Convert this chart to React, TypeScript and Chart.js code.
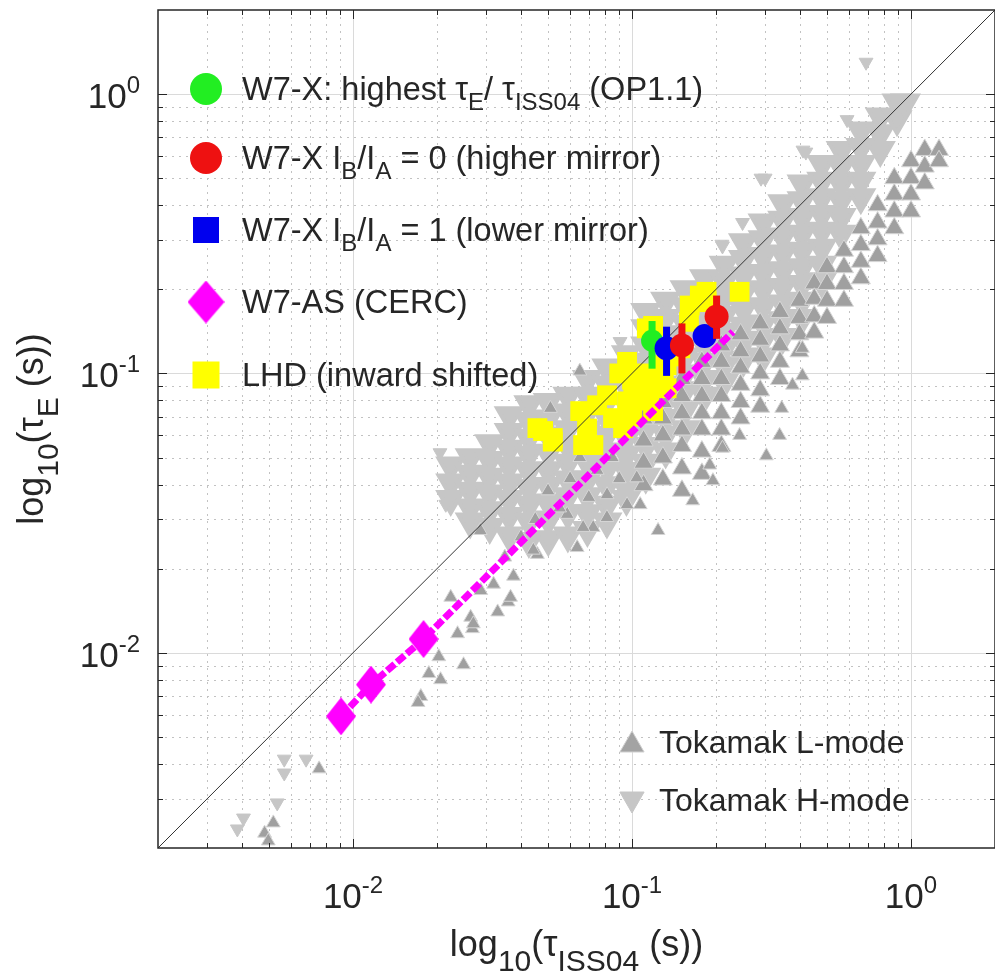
import { useEffect, useRef } from 'react';
import { Chart, registerables } from 'chart.js';

Chart.register(...registerables);

// ---------- axes ----------
const AXIS_MIN = 0.002;
const AXIS_MAX = 2;
const majorTickValues = [0.01, 0.1, 1];
const majorTickExponents = ['-2', '-1', '0'];
const minorDecades = [0.001, 0.01, 0.1, 1];
const minorMultipliers = [2, 3, 4, 5, 6, 7, 8, 9];

// ---------- Tokamak H-mode (dense cloud: columns of [tau_ISS04, tau_E values]) ----------
const hModeColumns: [number, number[]][] = [
  [0.0224, [0.0468, 0.0407, 0.0355]],
  [0.0263, [0.0501, 0.0437, 0.038, 0.0331, 0.0295]],
  [0.0309, [0.0562, 0.049, 0.0427, 0.0372, 0.0324, 0.0282]],
  [0.0363, [0.0708, 0.0617, 0.0537, 0.0468, 0.0407, 0.0355, 0.0309, 0.0263]],
  [0.0427, [0.0776, 0.0676, 0.0589, 0.0513, 0.0447, 0.0389, 0.0339, 0.0295, 0.0251]],
  [0.0501, [0.079, 0.069, 0.06, 0.052, 0.045, 0.0395, 0.0345, 0.03, 0.0255]],
  [0.0589, [0.0832, 0.0724, 0.0631, 0.055, 0.0479, 0.0417, 0.0363, 0.0316, 0.0263]],
  [0.0692, [0.0955, 0.0832, 0.0724, 0.0631, 0.055, 0.0479, 0.0417, 0.0363, 0.0316, 0.0275]],
  [0.0813, [0.105, 0.0912, 0.0794, 0.0692, 0.0603, 0.0525, 0.0457, 0.0398, 0.0339, 0.0295]],
  [0.0955, [0.117, 0.102, 0.0891, 0.0776, 0.0676, 0.0589, 0.0513, 0.0447, 0.0389, 0.0355]],
  [0.112, [0.166, 0.145, 0.126, 0.11, 0.0955, 0.0832, 0.0724, 0.0631, 0.055, 0.0479, 0.0427]],
  [0.132, [0.182, 0.158, 0.138, 0.12, 0.105, 0.0912, 0.0794, 0.0692, 0.0603, 0.0525]],
  [0.155, [0.2, 0.174, 0.151, 0.132, 0.115, 0.1, 0.0871, 0.0741, 0.0631]],
  [0.182, [0.219, 0.191, 0.166, 0.145, 0.126, 0.11, 0.0955, 0.0832]],
  [0.214, [0.245, 0.214, 0.186, 0.162, 0.141, 0.123, 0.107, 0.0933]],
  [0.251, [0.295, 0.257, 0.224, 0.195, 0.17, 0.148, 0.129, 0.112]],
  [0.295, [0.347, 0.302, 0.263, 0.229, 0.2, 0.174, 0.151, 0.132, 0.115]],
  [0.347, [0.407, 0.355, 0.309, 0.269, 0.234, 0.204, 0.178, 0.155, 0.135]],
  [0.407, [0.479, 0.417, 0.363, 0.316, 0.275, 0.24, 0.209, 0.182, 0.158]],
  [0.479, [0.562, 0.49, 0.427, 0.372, 0.324, 0.282, 0.245, 0.214]],
  [0.562, [0.631, 0.55, 0.479, 0.417, 0.363, 0.316]],
  [0.661, [0.741, 0.646, 0.562, 0.49, 0.427]],
  [0.776, [0.832, 0.724, 0.631]],
  [0.891, [0.933, 0.813]],
  [0.955, [0.933]],
];
const hModeSparse: [number, number][] = [
  [0.00567, 0.00416], [0.00679, 0.00416], [0.00567, 0.00371], [0.00535, 0.0029],
  [0.00385, 0.00234], [0.00405, 0.00256], [0.69, 1.3], [0.3, 0.5], [0.42, 0.62],
  [0.21, 0.29], [0.41, 0.63], [0.59, 0.81], [0.29, 0.5], [0.249, 0.347], [0.211, 0.286],
  [0.0906, 0.13], [0.0205, 0.052], [0.0215, 0.034],
];

// ---------- Tokamak L-mode ----------
const lModeColumns: [number, number[]][] = [
  [0.11, [0.069, 0.0575, 0.0479, 0.0398]],
  [0.129, [0.079, 0.069, 0.06, 0.05, 0.0417]],
  [0.151, [0.0955, 0.083, 0.072, 0.063, 0.055, 0.0457, 0.038]],
  [0.178, [0.11, 0.0955, 0.083, 0.072, 0.063, 0.0525, 0.0437]],
  [0.209, [0.126, 0.11, 0.0955, 0.083, 0.072, 0.063, 0.055]],
  [0.245, [0.138, 0.12, 0.105, 0.091, 0.079, 0.069]],
  [0.288, [0.151, 0.132, 0.115, 0.1, 0.087, 0.076]],
  [0.339, [0.166, 0.145, 0.126, 0.11, 0.0955]],
  [0.398, [0.182, 0.158, 0.138, 0.12]],
  [0.45, [0.21, 0.185, 0.16, 0.14]],
  [0.5, [0.24, 0.209, 0.182, 0.158]],
  [0.575, [0.275, 0.24, 0.209, 0.182]],
  [0.661, [0.331, 0.288, 0.251, 0.219]],
  [0.759, [0.4, 0.347, 0.302, 0.263]],
  [0.871, [0.5, 0.437, 0.38, 0.331]],
  [1.0, [0.575, 0.5, 0.437, 0.38]],
  [1.12, [0.631, 0.55, 0.479]],
  [1.26, [0.631, 0.575]],
];
const lModeSparse: [number, number][] = [
  [0.00756, 0.00384], [0.00518, 0.00246], [0.00482, 0.00226], [0.00497, 0.00212],
  [0.0175, 0.00697], [0.0171, 0.00664], [0.0187, 0.00842], [0.0206, 0.00801],
  [0.0203, 0.00968], [0.0249, 0.00906], [0.0237, 0.0117], [0.0268, 0.0122],
  [0.0264, 0.0134], [0.033, 0.014], [0.036, 0.0152], [0.027, 0.0127], [0.0224, 0.0158],
  [0.0287, 0.0167], [0.0367, 0.0158], [0.0376, 0.0188], [0.0458, 0.0225], [0.0636, 0.0238],
  [0.0726, 0.0281], [0.0813, 0.0305], [0.096, 0.0339], [0.107, 0.0339], [0.124, 0.0274],
  [0.0286, 0.0274], [0.0668, 0.0281], [0.0586, 0.0313], [0.0814, 0.0368], [0.104, 0.0423],
  [0.05, 0.038], [0.055, 0.033], [0.06, 0.042], [0.07, 0.036], [0.075, 0.045], [0.085, 0.05],
  [0.09, 0.042], [0.065, 0.05], [0.045, 0.03], [0.04, 0.026], [0.035, 0.022], [0.051, 0.075],
  [0.065, 0.102], [0.338, 0.06], [0.303, 0.0507], [0.195, 0.0413], [0.165, 0.035],
  [0.344, 0.075], [0.408, 0.098], [0.408, 0.123], [0.376, 0.0908], [0.243, 0.06],
  [0.211, 0.054], [0.19, 0.047], [0.0443, 0.0233], [0.0319, 0.0176],
];

// ---------- LHD (inward shifted) ----------
const lhdPoints: [number, number][] = [
  [0.048, 0.0622], [0.0668, 0.0554], [0.0652, 0.0733], [0.075, 0.0769], [0.0855, 0.0692],
  [0.096, 0.0794], [0.096, 0.11], [0.109, 0.0885], [0.123, 0.0963], [0.113, 0.145],
  [0.119, 0.148], [0.175, 0.19], [0.243, 0.196], [0.133, 0.107], [0.149, 0.123],
  [0.052, 0.0587], [0.069, 0.0635], [0.0814, 0.0835], [0.0458, 0.0637], [0.052, 0.057],
  [0.0727, 0.0554], [0.0929, 0.0637], [0.101, 0.0815], [0.119, 0.0733], [0.133, 0.0885],
  [0.161, 0.175], [0.185, 0.196], [0.126, 0.107], [0.116, 0.0908], [0.185, 0.18],
  [0.16, 0.153], [0.09, 0.1], [0.1, 0.095], [0.11, 0.1], [0.14, 0.115], [0.1, 0.07],
  [0.115, 0.08], [0.13, 0.095],
];

// ---------- W7-AS (CERC) ----------
const w7asPoints: [number, number][] = [
  [0.00906, 0.00592], [0.0116, 0.00769], [0.0179, 0.0112], [0.23, 0.141],
];

// ---------- W7-X ----------
const w7xHighest: [number, number][] = [[0.118, 0.131]];
const w7xHighestErr: [number, number][] = [[0.104, 0.154]];
const w7xHigherMirror: [number, number][] = [[0.151, 0.126], [0.201, 0.16]];
const w7xHigherMirrorErr: [number, number][] = [[0.1, 0.151], [0.133, 0.19]];
const w7xLowerMirror: [number, number][] = [[0.133, 0.123], [0.182, 0.136]];
const w7xLowerMirrorErr: [number, number][] = [[0.098, 0.147], [0.127, 0.146]];

const diagonal: [number, number][] = [[AXIS_MIN, AXIS_MIN], [AXIS_MAX, AXIS_MAX]];

const FONT = '"Liberation Sans", Arial, Helvetica, sans-serif';
const TEXT_COLOR = '#262626';

type Part = { t: string; sub?: boolean; sup?: boolean };

function drawRich(
  ctx: CanvasRenderingContext2D, parts: Part[], x: number, y: number, size: number,
  align: 'left' | 'center' | 'right', smallSize: number, subShift: number, supShift: number
) {
  const widths = parts.map((p) => {
    ctx.font = `${p.sub || p.sup ? smallSize : size}px ${FONT}`;
    return ctx.measureText(p.t).width;
  });
  const total = widths.reduce((a, b) => a + b, 0);
  let cx = align === 'left' ? x : align === 'center' ? x - total / 2 : x - total;
  ctx.textAlign = 'left';
  ctx.textBaseline = 'alphabetic';
  parts.forEach((p, i) => {
    ctx.font = `${p.sub || p.sup ? smallSize : size}px ${FONT}`;
    ctx.fillText(p.t, cx, y + (p.sub ? subShift : p.sup ? -supShift : 0));
    cx += widths[i];
  });
}

function makeDiamond(w: number, h: number, color: string) {
  const c = document.createElement('canvas');
  c.width = w;
  c.height = h;
  const g = c.getContext('2d')!;
  g.fillStyle = color;
  g.beginPath();
  g.moveTo(w / 2, 0);
  g.lineTo(w, h / 2);
  g.lineTo(w / 2, h);
  g.lineTo(0, h / 2);
  g.closePath();
  g.fill();
  return c;
}

function triangle(ctx: CanvasRenderingContext2D, x: number, y: number, r: number, down: boolean, fill: string, stroke: string) {
  const s = down ? -1 : 1;
  ctx.beginPath();
  ctx.moveTo(x, y - s * r);
  ctx.lineTo(x + r * 0.866, y + s * r * 0.5);
  ctx.lineTo(x - r * 0.866, y + s * r * 0.5);
  ctx.closePath();
  ctx.fillStyle = fill;
  ctx.fill();
  ctx.strokeStyle = stroke;
  ctx.lineWidth = 1;
  ctx.stroke();
}

const toXY = (arr: [number, number][]) => arr.map(([x, y]) => ({ x, y }));
const fromColumns = (cols: [number, number[]][]) =>
  cols.flatMap(([x, ys]) => ys.map((y) => ({ x, y })));

const decorPlugin = {
  id: 'decor',
  beforeDatasetsDraw(chart: any) {
    const { ctx, chartArea: a, scales } = chart;
    const xs = scales.x;
    const ys = scales.y;
    ctx.save();
    ctx.strokeStyle = '#c2c2c2';
    ctx.lineWidth = 1;
    ctx.setLineDash([2, 5]);
    minorDecades.forEach((d) => {
      minorMultipliers.forEach((m) => {
        const v = d * m;
        if (v <= AXIS_MIN || v >= AXIS_MAX) return;
        const px = Math.round(xs.getPixelForValue(v)) + 0.5;
        const py = Math.round(ys.getPixelForValue(v)) + 0.5;
        ctx.beginPath();
        ctx.moveTo(px, a.top);
        ctx.lineTo(px, a.bottom);
        ctx.moveTo(a.left, py);
        ctx.lineTo(a.right, py);
        ctx.stroke();
      });
    });
    ctx.setLineDash([]);
    ctx.strokeStyle = '#dadada';
    majorTickValues.forEach((v) => {
      const px = Math.round(xs.getPixelForValue(v)) + 0.5;
      const py = Math.round(ys.getPixelForValue(v)) + 0.5;
      ctx.beginPath();
      ctx.moveTo(px, a.top);
      ctx.lineTo(px, a.bottom);
      ctx.moveTo(a.left, py);
      ctx.lineTo(a.right, py);
      ctx.stroke();
    });
    ctx.restore();
  },
  beforeDatasetDraw(chart: any, args: any) {
    const ds = chart.data.datasets[args.index];
    if (!ds.errorBars) return;
    const { ctx } = chart;
    const xs = chart.scales.x;
    const ys = chart.scales.y;
    ctx.save();
    ctx.fillStyle = ds.backgroundColor;
    ds.data.forEach((p: any, i: number) => {
      const [lo, hi] = ds.errorBars[i];
      const px = xs.getPixelForValue(p.x);
      const yTop = ys.getPixelForValue(hi);
      const yBot = ys.getPixelForValue(lo);
      ctx.fillRect(px - 3.5, yTop, 7, yBot - yTop);
    });
    ctx.restore();
  },
  afterDatasetsDraw(chart: any) {
    const { ctx, chartArea: a, scales } = chart;
    const xs = scales.x;
    const ys = scales.y;
    ctx.save();
    ctx.strokeStyle = TEXT_COLOR;
    ctx.lineWidth = 1.5;
    ctx.strokeRect(a.left, a.top, a.right - a.left, a.bottom - a.top);
    ctx.lineWidth = 1;
    const tick = (v: number, len: number) => {
      const px = Math.round(xs.getPixelForValue(v)) + 0.5;
      const py = Math.round(ys.getPixelForValue(v)) + 0.5;
      ctx.beginPath();
      ctx.moveTo(px, a.bottom);
      ctx.lineTo(px, a.bottom - len);
      ctx.moveTo(px, a.top);
      ctx.lineTo(px, a.top + len);
      ctx.moveTo(a.left, py);
      ctx.lineTo(a.left + len, py);
      ctx.moveTo(a.right, py);
      ctx.lineTo(a.right - len, py);
      ctx.stroke();
    };
    minorDecades.forEach((d) =>
      minorMultipliers.forEach((m) => {
        const v = d * m;
        if (v > AXIS_MIN && v < AXIS_MAX) tick(v, 5);
      })
    );
    majorTickValues.forEach((v) => tick(v, 9));

    ctx.fillStyle = TEXT_COLOR;
    majorTickValues.forEach((v, i) => {
      const parts: Part[] = [{ t: '10' }, { t: majorTickExponents[i], sup: true }];
      drawRich(ctx, parts, xs.getPixelForValue(v), 908, 35, 'center', 24, 0, 15);
      drawRich(ctx, parts, 140, ys.getPixelForValue(v) + 14, 35, 'right', 24, 0, 15);
    });

    drawRich(
      ctx,
      [{ t: 'log' }, { t: '10', sub: true }, { t: '(τ' }, { t: 'ISS04', sub: true }, { t: ' (s))' }],
      (a.left + a.right) / 2, 956, 36, 'center', 30, 15, 0
    );
    ctx.save();
    ctx.translate(43, (a.top + a.bottom) / 2);
    ctx.rotate(-Math.PI / 2);
    drawRich(
      ctx,
      [{ t: 'log' }, { t: '10', sub: true }, { t: '(τ' }, { t: 'E', sub: true }, { t: ' (s))' }],
      0, 0, 36, 'center', 30, 15, 0
    );
    ctx.restore();

    const mx = 206;
    const tx = 242;
    const rows = [89, 158, 230, 302, 375];
    ctx.fillStyle = '#22ee22';
    ctx.beginPath(); ctx.arc(mx, rows[0], 16, 0, Math.PI * 2); ctx.fill();
    ctx.fillStyle = '#ee1111';
    ctx.beginPath(); ctx.arc(mx, rows[1], 16, 0, Math.PI * 2); ctx.fill();
    ctx.fillStyle = '#0000ee';
    ctx.fillRect(mx - 13, rows[2] - 13, 26, 26);
    const dmd = makeDiamond(37, 43, '#ff00ff');
    ctx.drawImage(dmd, mx - 18.5, rows[3] - 21.5);
    ctx.fillStyle = '#ffff00';
    ctx.fillRect(mx - 13.5, rows[4] - 13.5, 27, 27);

    ctx.fillStyle = TEXT_COLOR;
    const L = 32.5, S = 24, SUB = 10;
    drawRich(ctx, [{ t: 'W7-X: highest τ' }, { t: 'E', sub: true }, { t: '/ τ' }, { t: 'ISS04', sub: true }, { t: ' (OP1.1)' }], tx, rows[0] + 11, L, 'left', S, SUB, 0);
    drawRich(ctx, [{ t: 'W7-X I' }, { t: 'B', sub: true }, { t: '/I' }, { t: 'A', sub: true }, { t: ' = 0 (higher mirror)' }], tx, rows[1] + 11, L, 'left', S, SUB, 0);
    drawRich(ctx, [{ t: 'W7-X I' }, { t: 'B', sub: true }, { t: '/I' }, { t: 'A', sub: true }, { t: ' = 1 (lower mirror)' }], tx, rows[2] + 11, L, 'left', S, SUB, 0);
    drawRich(ctx, [{ t: 'W7-AS (CERC)' }], tx, rows[3] + 11, L, 'left', S, SUB, 0);
    drawRich(ctx, [{ t: 'LHD (inward shifted)' }], tx, rows[4] + 11, L, 'left', S, SUB, 0);

    triangle(ctx, 632, 745, 14, false, '#a3a3a3', '#d0d0d0');
    triangle(ctx, 632, 799, 14, true, '#c6c6c6', '#c6c6c6');
    ctx.fillStyle = TEXT_COLOR;
    drawRich(ctx, [{ t: 'Tokamak L-mode' }], 659, 753, 32, 'left', S, SUB, 0);
    drawRich(ctx, [{ t: 'Tokamak H-mode' }], 659, 811, 32, 'left', S, SUB, 0);
    ctx.restore();
  },
};

export default function App() {
  const ref = useRef<HTMLCanvasElement>(null);
  useEffect(() => {
    if (!ref.current) return;
    const hCloud = fromColumns(hModeColumns);
    const hData = hCloud.concat(toXY(hModeSparse));
    const lCloud = fromColumns(lModeColumns);
    const lData = lCloud.concat(toXY(lModeSparse));
    const plotDiamond = makeDiamond(30, 38, '#ff00ff');
    const chart = new Chart(ref.current, {
      type: 'scatter',
      data: {
        datasets: [
          {
            label: 'W7-X IB/IA = 0 (higher mirror)', data: toXY(w7xHigherMirror),
            backgroundColor: '#ee1111', borderColor: '#ee1111', pointRadius: 12, borderWidth: 0,
            order: 1, errorBars: w7xHigherMirrorErr,
          } as any,
          {
            label: 'W7-X IB/IA = 1 (lower mirror)', data: toXY(w7xLowerMirror),
            backgroundColor: '#0000ee', borderColor: '#0000ee', pointRadius: 12, borderWidth: 0,
            order: 2, errorBars: w7xLowerMirrorErr,
          } as any,
          {
            label: 'W7-X: highest', data: toXY(w7xHighest),
            backgroundColor: '#22ee22', borderColor: '#22ee22', pointRadius: 11, borderWidth: 0,
            order: 3, errorBars: w7xHighestErr,
          } as any,
          {
            label: 'W7-AS (CERC)', data: toXY(w7asPoints), showLine: true,
            borderColor: '#ff00ff', backgroundColor: '#ff00ff', borderWidth: 7, borderDash: [10, 3],
            pointStyle: plotDiamond, pointRadius: [15, 15, 15, 0], order: 4,
          } as any,
          {
            label: 'diagonal', data: toXY(diagonal), showLine: true,
            borderColor: '#333333', borderWidth: 1, pointRadius: 0, order: 5,
          } as any,
          {
            label: 'LHD (inward shifted)', data: toXY(lhdPoints),
            backgroundColor: '#ffff00', borderColor: '#ffff00', borderWidth: 0,
            pointStyle: 'rect', pointRadius: 14, order: 6,
          } as any,
          {
            label: 'Tokamak L-mode', data: lData,
            backgroundColor: '#a0a0a0', borderColor: '#d6d6d6', borderWidth: 1,
            pointStyle: 'triangle',
            pointRadius: (c: any) => (c.dataIndex < lCloud.length ? 11 : 8),
            order: 7,
          } as any,
          {
            label: 'Tokamak H-mode', data: hData,
            backgroundColor: '#c6c6c6', borderColor: '#c6c6c6',
            borderWidth: (c: any) => (c.dataIndex < hCloud.length ? 4 : 1),
            pointStyle: 'triangle', rotation: 180,
            pointRadius: (c: any) => (c.dataIndex < hCloud.length ? 14 : 8),
            order: 8,
          } as any,
        ],
      },
      options: {
        responsive: false,
        animation: false,
        events: [],
        layout: { padding: { left: 158, top: 10, right: 0, bottom: 129 }, autoPadding: false } as any,
        scales: {
          x: { type: 'logarithmic', min: AXIS_MIN, max: AXIS_MAX, display: false },
          y: { type: 'logarithmic', min: AXIS_MIN, max: AXIS_MAX, display: false },
        },
        plugins: { legend: { display: false }, tooltip: { enabled: false } },
      },
      plugins: [decorPlugin as any],
    });
    return () => chart.destroy();
  }, []);
  return (
    <div style={{ position: 'absolute', left: 0, top: 0, width: 995, height: 977, background: '#fff' }}>
      <canvas ref={ref} width={995} height={977} style={{ display: 'block' }} />
    </div>
  );
}
